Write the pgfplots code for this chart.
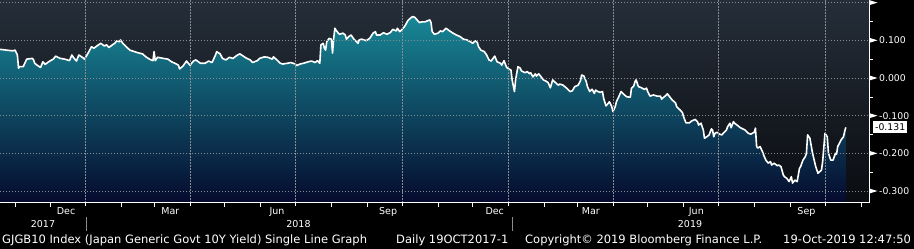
\documentclass[border=0pt]{standalone}
\usepackage{pgfplots}
\pgfplotsset{compat=1.18}
\usepackage{pgfplotstable}
\usepackage{fontspec}
\setmainfont{DejaVu Sans}

\definecolor{bgtop}{RGB}{37,46,57}
\definecolor{bgbot}{RGB}{10,12,16}
\definecolor{artop}{RGB}{24,135,150}
\definecolor{armid}{RGB}{12,72,102}
\definecolor{arbot}{RGB}{5,10,45}
\definecolor{gridc}{RGB}{135,140,145}

\pgfdeclareplotmark{rtri}{\pgfpathmoveto{\pgfpoint{0pt}{2.6pt}}\pgfpathlineto{\pgfpoint{8.5pt}{0pt}}\pgfpathlineto{\pgfpoint{0pt}{-2.6pt}}\pgfpathclose\pgfusepathqfill}

% days since 19-Oct-2017, yield in %
\pgfplotstableread{
d v
0 0.076
11 0.072
13 0.074
15 0.061
16 0.026
17 0.030
20 0.030
22 0.043
23 0.050
28 0.052
29 0.048
30 0.039
32 0.034
35 0.028
37 0.043
39 0.036
41 0.041
43 0.045
46 0.050
48 0.058
52 0.052
56 0.050
60 0.046
62 0.061
64 0.052
66 0.045
68 0.061
71 0.055
73 0.050
76 0.066
79 0.083
81 0.079
85 0.088
87 0.092
90 0.085
92 0.088
94 0.081
97 0.088
99 0.092
101 0.099
103 0.096
104 0.101
106 0.092
109 0.083
112 0.074
116 0.070
119 0.067
123 0.064
126 0.056
129 0.050
132 0.046
133 0.070
134 0.046
136 0.055
141 0.052
145 0.050
148 0.043
151 0.039
154 0.034
155 0.024
158 0.032
161 0.045
162 0.041
164 0.034
167 0.045
169 0.048
173 0.039
177 0.039
180 0.045
183 0.041
186 0.061
187 0.070
190 0.064
192 0.052
195 0.048
198 0.055
201 0.052
205 0.061
207 0.064
210 0.058
213 0.052
216 0.048
218 0.041
222 0.046
224 0.052
228 0.056
231 0.055
235 0.050
236 0.056
239 0.048
242 0.039
244 0.037
248 0.039
251 0.041
255 0.037
256 0.033
259 0.037
263 0.040
266 0.043
269 0.045
272 0.041
274 0.046
276 0.039
277 0.088
279 0.092
280 0.079
281 0.074
282 0.096
284 0.105
286 0.103
287 0.066
288 0.105
289 0.132
290 0.127
292 0.119
293 0.116
296 0.119
298 0.114
299 0.103
301 0.110
303 0.114
305 0.105
306 0.101
309 0.092
310 0.101
312 0.103
316 0.099
319 0.105
322 0.119
324 0.123
325 0.114
328 0.114
331 0.120
334 0.116
337 0.121
339 0.129
342 0.125
343 0.132
345 0.123
347 0.129
349 0.136
350 0.141
352 0.152
354 0.158
356 0.163
358 0.161
360 0.154
362 0.147
364 0.149
367 0.149
369 0.152
371 0.154
372 0.147
373 0.123
375 0.116
378 0.119
380 0.125
382 0.123
385 0.132
388 0.125
391 0.119
394 0.114
397 0.110
400 0.103
403 0.101
406 0.096
408 0.092
410 0.099
412 0.094
413 0.083
415 0.074
418 0.070
420 0.061
422 0.048
424 0.045
425 0.050
427 0.058
429 0.043
432 0.039
433 0.034
435 0.046
437 0.030
438 0.026
441 0.021
442 -0.005
444 -0.036
445 -0.005
447 0.030
449 0.026
450 0.019
453 0.014
455 0.017
457 0.011
458 0.014
460 0.003
462 0.011
463 0.005
465 0.011
467 0.003
469 -0.005
471 -0.008
473 -0.012
475 -0.026
477 -0.005
480 -0.014
482 -0.019
483 -0.016
486 -0.019
489 -0.027
492 -0.036
494 -0.034
496 -0.023
499 -0.019
501 -0.007
502 0.008
504 0.005
506 -0.010
507 -0.023
509 -0.036
511 -0.030
513 -0.041
514 -0.032
516 -0.036
518 -0.038
520 -0.036
521 -0.054
523 -0.074
525 -0.067
526 -0.063
528 -0.076
529 -0.089
531 -0.076
532 -0.063
534 -0.050
536 -0.036
539 -0.045
541 -0.050
544 -0.051
545 -0.027
547 -0.021
548 -0.010
549 -0.005
551 -0.023
553 -0.025
556 -0.030
558 -0.027
559 -0.036
561 -0.048
564 -0.045
567 -0.048
570 -0.048
571 -0.056
574 -0.048
576 -0.042
578 -0.050
580 -0.058
583 -0.066
584 -0.076
587 -0.085
589 -0.092
590 -0.103
592 -0.119
595 -0.119
597 -0.114
600 -0.110
602 -0.116
603 -0.125
605 -0.120
607 -0.138
608 -0.160
610 -0.156
612 -0.151
614 -0.135
615 -0.138
616 -0.156
617 -0.147
619 -0.144
621 -0.149
623 -0.151
625 -0.144
627 -0.138
628 -0.129
630 -0.120
631 -0.132
633 -0.116
634 -0.120
637 -0.127
639 -0.132
643 -0.138
646 -0.147
648 -0.149
651 -0.144
652 -0.133
653 -0.182
654 -0.186
656 -0.182
658 -0.195
659 -0.204
661 -0.218
663 -0.226
665 -0.222
666 -0.231
668 -0.226
671 -0.233
672 -0.231
674 -0.235
676 -0.257
677 -0.262
679 -0.266
681 -0.275
683 -0.262
684 -0.279
686 -0.271
688 -0.275
690 -0.240
691 -0.235
693 -0.218
695 -0.209
696 -0.200
697 -0.151
699 -0.160
701 -0.195
702 -0.209
704 -0.235
706 -0.253
709 -0.244
710 -0.222
712 -0.147
714 -0.156
715 -0.200
717 -0.218
719 -0.218
721 -0.200
722 -0.202
723 -0.182
726 -0.164
728 -0.156
729 -0.142
730 -0.131
}\yld

\begin{document}
\begin{tikzpicture}
\fill[black] (0pt,0pt) rectangle (914pt,249pt);
\begin{axis}[
  at={(0pt,46.3pt)}, anchor=south west, scale only axis,
  width=869pt, height=202.7pt,
  xmin=0, xmax=750, ymin=-0.331, ymax=0.207,
  axis x line*=bottom, axis y line*=right,
  axis line style={white, line width=0.8pt},
  axis background/.style={top color=bgtop, bottom color=bgbot},
  axis on top, clip=false,
  xtick={74,164,255,347,439,529,620,712},
  xticklabels={,,,,,,,},
  minor xtick={13,43,105,133,194,225,286,317,378,408,470,498,559,590,651,682,743},
  extra x ticks={57,147,239,335,427,510,601,696},
  extra x tick labels={Dec,Mar,Jun,Sep,Dec,Mar,Jun,Sep},
  extra x tick style={grid=none, tick style={draw=none}},
  ytick={-0.3,-0.2,-0.1,0,0.1,0.2},
  yticklabels={-0.300,-0.200,-0.100,0.000,0.100,{}},
  minor ytick={-0.25,-0.15,-0.05,0.05,0.15},
  tick align=outside, major tick length=3pt, minor tick length=4pt,
  tick style={white, line width=0.6pt},
  xmajorgrids, ymajorgrids,
  major grid style={gridc, dash pattern=on 1.2pt off 1.8pt, line width=0.5pt},
  xticklabel style={font=\fontsize{9.5}{10}\selectfont, text=white, anchor=base, yshift=-8.6pt},
  yticklabel style={font=\fontsize{9.3}{10}\selectfont, text=white, anchor=west, inner sep=0pt, xshift=7pt},
]
\addplot[draw=none, top color=artop, middle color=armid, bottom color=arbot]
  table {\yld} -- (axis cs:730,-0.331) -- (axis cs:0,-0.331) -- cycle;
\addplot[white, line width=1.6pt, line join=round, mark=none] table {\yld};
\addplot[only marks, mark=rtri, white]
  coordinates {(750,0.2) (750,0.1) (750,0) (750,-0.1) (750,-0.2) (750,-0.3)};
\addplot[draw=none, mark=none, nodes near coords={-0.131},
  nodes near coords style={anchor=west, xshift=4pt, fill=white, text=black,
    inner xsep=2pt, inner ysep=1.5pt, minimum height=12pt,
    font=\fontsize{9.3}{10}\selectfont}]
  coordinates {(750,-0.131)};
\end{axis}
\begin{scope}[every node/.style={text=white, inner sep=0pt}]
\node[anchor=base, font=\fontsize{9.5}{10}\selectfont] at (43pt,21pt) {2017};
\node[anchor=base, font=\fontsize{9.5}{10}\selectfont] at (298.5pt,21pt) {2018};
\node[anchor=base, font=\fontsize{9.5}{10}\selectfont] at (690pt,21pt) {2019};
\draw[white!55!black, line width=0.8pt] (86pt,18.3pt) -- (86pt,32.3pt);
\draw[white!55!black, line width=0.8pt] (512pt,18.3pt) -- (512pt,32.3pt);
\node[anchor=base west, font=\fontsize{11.5}{12}\selectfont] at (2pt,5pt) {GJGB10 Index (Japan Generic Govt 10Y Yield) Single Line Graph};
\node[anchor=base west, font=\fontsize{11.5}{12}\selectfont] at (396pt,5pt) {Daily 19OCT2017-1};
\node[anchor=base west, font=\fontsize{11.5}{12}\selectfont] at (525pt,5pt) {Copyright© 2019 Bloomberg Finance L.P.};
\node[anchor=base west, font=\fontsize{11.5}{12}\selectfont] at (783pt,5pt) {19-Oct-2019 12:47:50};
\end{scope}
\pgfresetboundingbox
\path (0pt,0pt) rectangle (914pt,249pt);
\end{tikzpicture}
\end{document}
